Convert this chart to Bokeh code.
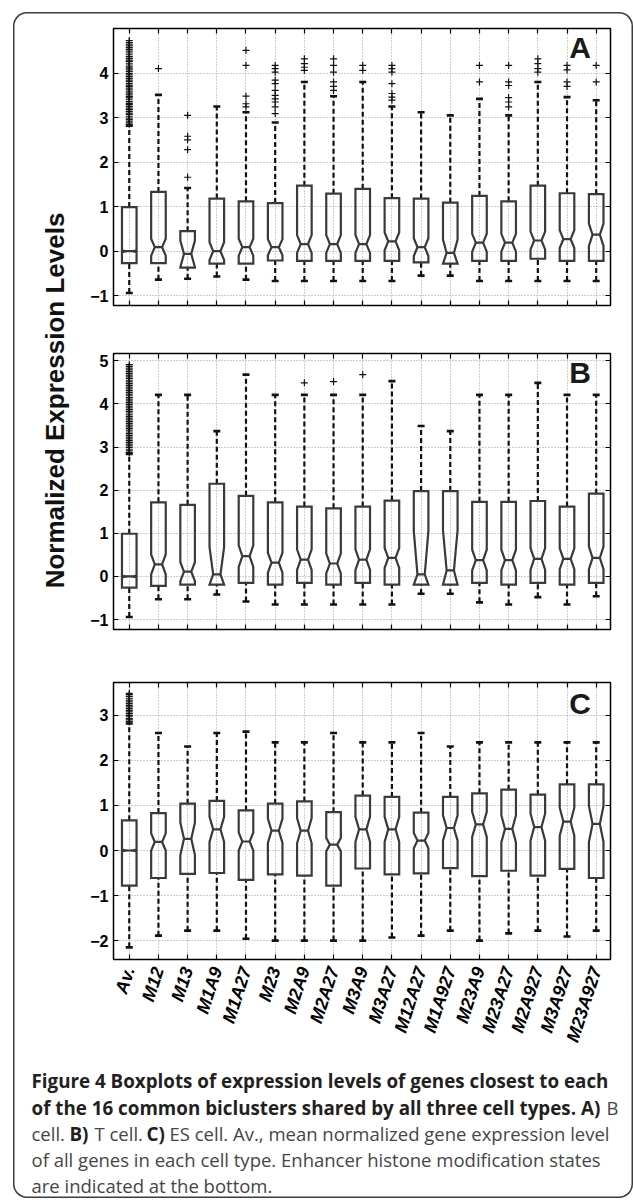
import math
from bokeh.plotting import figure
from bokeh.models import Range1d, LinearAxis, FixedTicker, Grid, Label
from bokeh.layouts import column, row
from bokeh.embed import file_html
from bokeh.resources import INLINE

categories = ["Av.", "M12", "M13", "M1A9", "M1A27", "M23", "M2A9", "M2A27", "M3A9",
              "M3A27", "M12A27", "M1A927", "M23A9", "M23A27", "M2A927", "M3A927", "M23A927"]

# ---------------- Panel A (B cell) ----------------
a_low = [-0.94, -0.64, -0.62, -0.57, -0.64, -0.67, -0.67, -0.67, -0.67, -0.67, -0.55, -0.55, -0.67, -0.67, -0.67, -0.67, -0.67]
a_q1 = [-0.27, -0.27, -0.37, -0.28, -0.28, -0.21, -0.22, -0.22, -0.22, -0.22, -0.25, -0.28, -0.22, -0.22, -0.17, -0.22, -0.22]
a_med = [0.0, 0.09, -0.06, 0.0, 0.09, 0.09, 0.16, 0.16, 0.16, 0.22, 0.09, -0.04, 0.19, 0.19, 0.24, 0.27, 0.37]
a_q3 = [0.99, 1.33, 0.45, 1.18, 1.12, 1.08, 1.47, 1.29, 1.40, 1.19, 1.18, 1.09, 1.24, 1.12, 1.47, 1.30, 1.28]
a_high = [2.82, 3.51, 1.42, 3.25, 3.12, 2.89, 3.80, 3.48, 3.80, 3.25, 3.12, 3.05, 3.42, 3.05, 3.80, 3.46, 3.39]
a_notch = [0.02, 0.19, 0.30, 0.20, 0.19, 0.18, 0.20, 0.20, 0.20, 0.20, 0.20, 0.30, 0.20, 0.20, 0.20, 0.20, 0.25]
a_out = [
    [2.85, 2.88, 2.92, 2.96, 2.99, 3.03, 3.07, 3.1, 3.14, 3.18, 3.21, 3.25, 3.29, 3.32, 3.36, 3.4,
     3.44, 3.47, 3.51, 3.55, 3.58, 3.62, 3.66, 3.7, 3.73, 3.77, 3.81, 3.84, 3.88, 3.92, 3.96, 3.99,
     4.03, 4.07, 4.11, 4.14, 4.18, 4.22, 4.26, 4.29, 4.33, 4.37, 4.41, 4.45, 4.49, 4.53, 4.57, 4.61,
     4.65, 4.69, 4.73],
    [4.10],
    [1.66, 2.28, 2.50, 2.58, 3.05],
    [],
    [3.24, 3.31, 3.48, 4.17, 4.51],
    [3.09, 3.24, 3.35, 3.42, 3.50, 3.61, 3.76, 3.84, 4.02, 4.10, 4.17],
    [4.06, 4.13, 4.21, 4.32],
    [3.61, 3.70, 3.80, 4.02, 4.17, 4.32],
    [4.06, 4.17],
    [3.39, 3.46, 3.54, 3.76, 4.02, 4.10, 4.17],
    [],
    [],
    [3.80, 4.17],
    [3.24, 3.35, 3.45, 3.72, 3.80, 4.17],
    [4.02, 4.10, 4.21, 4.32],
    [3.70, 3.80, 4.07, 4.17],
    [3.80, 4.17],
]

# ---------------- Panel B (T cell) ----------------
b_low = [-0.94, -0.53, -0.53, -0.42, -0.58, -0.65, -0.65, -0.65, -0.65, -0.65, -0.40, -0.40, -0.60, -0.65, -0.48, -0.65, -0.46]
b_q1 = [-0.26, -0.22, -0.19, -0.19, -0.15, -0.19, -0.15, -0.19, -0.15, -0.19, -0.19, -0.19, -0.15, -0.19, -0.15, -0.19, -0.15]
b_med = [0.0, 0.28, 0.11, 0.05, 0.47, 0.32, 0.39, 0.30, 0.39, 0.43, 0.05, 0.14, 0.38, 0.38, 0.41, 0.41, 0.43]
b_q3 = [0.99, 1.72, 1.66, 2.15, 1.87, 1.72, 1.62, 1.58, 1.62, 1.76, 1.98, 1.98, 1.73, 1.73, 1.75, 1.62, 1.92]
b_high = [2.84, 4.21, 4.21, 3.37, 4.68, 4.21, 4.21, 4.21, 4.21, 4.53, 3.49, 3.37, 4.21, 4.21, 4.49, 4.21, 4.21]
b_notch = [0.02, 0.23, 0.22, 0.63, 0.25, 0.23, 0.24, 0.23, 0.24, 0.23, 1.00, 0.93, 0.24, 0.24, 0.25, 0.24, 0.26]
b_out = [
    [2.87, 2.91, 2.95, 2.99, 3.03, 3.07, 3.11, 3.15, 3.19, 3.23, 3.27, 3.31, 3.35, 3.39, 3.43, 3.47,
     3.51, 3.55, 3.59, 3.63, 3.67, 3.71, 3.75, 3.79, 3.83, 3.87, 3.91, 3.95, 3.99, 4.03, 4.07, 4.11,
     4.15, 4.19, 4.23, 4.27, 4.31, 4.35, 4.39, 4.43, 4.47, 4.51, 4.55, 4.59, 4.63, 4.67, 4.71, 4.75,
     4.79, 4.83, 4.87, 4.91],
    [], [], [], [], [],
    [4.49],
    [4.52],
    [4.68],
    [], [], [], [], [], [], [], [],
]

# ---------------- Panel C (ES cell) ----------------
c_low = [-2.15, -1.89, -1.78, -1.78, -1.96, -2.0, -2.0, -2.0, -2.0, -1.93, -1.89, -1.78, -2.0, -1.84, -1.78, -1.91, -1.78]
c_q1 = [-0.78, -0.61, -0.52, -0.50, -0.65, -0.53, -0.56, -0.78, -0.40, -0.53, -0.51, -0.39, -0.57, -0.45, -0.56, -0.41, -0.61]
c_med = [0.0, 0.19, 0.26, 0.47, 0.20, 0.44, 0.44, 0.13, 0.47, 0.47, 0.22, 0.50, 0.58, 0.48, 0.52, 0.64, 0.59]
c_q3 = [0.67, 0.83, 1.04, 1.10, 0.89, 1.04, 1.09, 0.85, 1.22, 1.19, 0.84, 1.19, 1.27, 1.35, 1.24, 1.47, 1.47]
c_high = [2.82, 2.61, 2.31, 2.61, 2.64, 2.40, 2.40, 2.61, 2.40, 2.40, 2.61, 2.31, 2.40, 2.40, 2.40, 2.40, 2.40]
c_notch = [0.02, 0.19, 0.36, 0.28, 0.20, 0.27, 0.28, 0.15, 0.28, 0.28, 0.17, 0.28, 0.28, 0.30, 0.30, 0.31, 0.40]
c_out = [
    [2.86, 2.9, 2.93, 2.97, 3.0, 3.04, 3.08, 3.11, 3.15, 3.19, 3.22, 3.26, 3.3, 3.34, 3.38, 3.42,
     3.46, 3.49],
    [], [], [], [], [], [], [], [], [], [], [], [], [], [], [], [],
]

a_yticks = [-1, 0, 1, 2, 3, 4]
b_yticks = [-1, 0, 1, 2, 3, 4, 5]
c_yticks = [-2, -1, 0, 1, 2, 3]

y_title = "Normalized Expression Levels"
caption_bold_1 = "Figure 4 Boxplots of expression levels of genes closest to each"
caption_bold_2 = "of the 16 common biclusters shared by all three cell types. A)"

FONT = "Liberation Sans"
CAPFONT = "Open Sans"
BOXC = "#3a3a3a"
HW = 0.25  # half box width (x units)


def tick_text(v):
    return ("\u2212%d" % (-v)) if v < 0 else "%d" % v


def make_axis(ticks, labels, size="16px", style="bold", standoff=5, **kw):
    return LinearAxis(
        ticker=FixedTicker(ticks=ticks),
        major_label_overrides={t: l for t, l in zip(ticks, labels)},
        axis_line_color=None,
        major_tick_in=5, major_tick_out=0,
        major_tick_line_color="black", major_tick_line_width=1.2,
        minor_tick_line_color=None,
        major_label_text_font=FONT, major_label_text_font_style=style,
        major_label_text_font_size=size, major_label_text_color="black",
        major_label_standoff=standoff, **kw)


def panel(letter, letter_xy, lows, q1s, meds, q3s, highs, notch, outs, yr, yticks,
          h, top, bottom, show_xlabels):
    n = len(categories)
    xt = list(range(1, n + 1))
    p = figure(width=555, height=h, x_range=Range1d(0.46, 17.49), y_range=Range1d(*yr),
               x_axis_type=None, y_axis_type=None, output_backend="svg",
               toolbar_location=None, min_border_left=35, min_border_right=23,
               min_border_top=top, min_border_bottom=bottom,
               border_fill_color=None, background_fill_color=None,
               outline_line_color="black", outline_line_width=1.5)
    p.add_layout(Grid(dimension=0, ticker=FixedTicker(ticks=xt), grid_line_color="#9c9c9c",
                      grid_line_dash="1 2", grid_line_width=1))
    p.add_layout(Grid(dimension=1, ticker=FixedTicker(ticks=yticks), grid_line_color="#9c9c9c",
                      grid_line_dash="1 2", grid_line_width=1))

    p.add_layout(make_axis(yticks, [tick_text(t) for t in yticks]), "left")
    p.add_layout(make_axis(yticks, [""] * len(yticks), size="8px", standoff=0), "right")
    p.add_layout(make_axis(xt, [""] * n, size="8px", standoff=0), "above")
    if show_xlabels:
        p.add_layout(make_axis(xt, categories, size="18px", style="bold italic", standoff=8,
                               major_label_orientation=math.radians(72)), "below")
    else:
        p.add_layout(make_axis(xt, [""] * n, size="8px", standoff=0), "below")

    # whiskers
    p.segment(xt, q3s, xt, highs, line_color="#111111", line_width=2.2, line_dash="5 3")
    p.segment(xt, lows, xt, q1s, line_color="#111111", line_width=2.2, line_dash="5 3")
    p.segment([x - 0.12 for x in xt], highs, [x + 0.12 for x in xt], highs,
              line_color="#111111", line_width=2.6)
    p.segment([x - 0.12 for x in xt], lows, [x + 0.12 for x in xt], lows,
              line_color="#111111", line_width=2.6)

    # notched boxes
    xs_list, ys_list = [], []
    for i, x in enumerate(xt):
        lo = max(meds[i] - notch[i], q1s[i])
        hi = min(meds[i] + notch[i], q3s[i])
        xs_list.append([x - HW, x - HW, x - HW / 2, x - HW, x - HW,
                        x + HW, x + HW, x + HW / 2, x + HW, x + HW])
        ys_list.append([q1s[i], lo, meds[i], hi, q3s[i], q3s[i], hi, meds[i], lo, q1s[i]])
    p.patches(xs_list, ys_list, fill_color=None, line_color=BOXC, line_width=2.2,
              line_join="miter")
    p.segment([x - HW / 2 for x in xt], meds, [x + HW / 2 for x in xt], meds,
              line_color=BOXC, line_width=2.2)

    # outliers
    ox, oy = [], []
    for i, vals in enumerate(outs):
        for v in vals:
            ox.append(i + 1)
            oy.append(v)
    p.scatter(ox, oy, marker="cross", size=7, line_color="#111111", line_width=1.2)

    p.add_layout(Label(x=letter_xy[0], y=letter_xy[1], text=letter, text_font=FONT,
                       text_font_style="bold", text_font_size="30px", text_color="#1a1a1a",
                       text_align="center", text_baseline="alphabetic"))
    return p


pa = panel("A", (16.45, 4.58), a_low, a_q1, a_med, a_q3, a_high, a_notch, a_out,
           (-1.22, 5.0), a_yticks, 317, 16, 24, False)
pb = panel("B", (16.45, 4.73), b_low, b_q1, b_med, b_q3, b_high, b_notch, b_out,
           (-1.23, 5.17), b_yticks, 326, 24, 26, False)
pc = panel("C", (16.45, 3.26), c_low, c_q1, c_med, c_q3, c_high, c_notch, c_out,
           (-2.42, 3.73), c_yticks, 413, 27, 109, True)

# y-axis title column
ylab = figure(width=65, height=1056, x_range=Range1d(0, 65), y_range=Range1d(1056, 0),
              x_axis_type=None, y_axis_type=None, output_backend="svg", toolbar_location=None,
              min_border=0, border_fill_color=None, background_fill_color=None,
              outline_line_color=None)
ylab.add_layout(Label(x=41, y=388, text=y_title, angle=math.pi / 2, text_font=FONT,
                      text_font_style="bold", text_font_size="26px", text_color="#111111",
                      text_align="center", text_baseline="alphabetic"))

# caption
CAP_H = 130
cap = figure(width=620, height=CAP_H, x_range=Range1d(0, 620), y_range=Range1d(CAP_H, 0),
             x_axis_type=None, y_axis_type=None, output_backend="svg", toolbar_location=None,
             min_border=0, border_fill_color=None, background_fill_color=None,
             outline_line_color=None)
BOLDC = "#231f20"
REGC = "#454545"
cap_items = [
    (18, 12, caption_bold_1, "bold", BOLDC),
    (18, 39, caption_bold_2, "bold", BOLDC),
    (593, 39, "B", "normal", REGC),
    (18, 65, "cell.", "normal", REGC),
    (56, 65, "B)", "bold", BOLDC),
    (81, 65, "T cell.", "normal", REGC),
    (133, 65, "C)", "bold", BOLDC),
    (156, 65, "ES cell. Av., mean normalized gene expression level", "normal", REGC),
    (18, 91, "of all genes in each cell type. Enhancer histone modification states", "normal", REGC),
    (18, 117, "are indicated at the bottom.", "normal", REGC),
]
for x, y, t, st, col in cap_items:
    cap.add_layout(Label(x=x, y=y, text=t, text_font=CAPFONT, text_font_style=st,
                         text_font_size="18.8px" if st == "bold" else "18.5px",
                         text_color=col, text_align="left", text_baseline="middle"))

root = column(
    row(ylab, column(pa, pb, pc, spacing=0), spacing=0),
    cap,
    spacing=0,
    styles={"margin-left": "13px", "margin-top": "12px",
            "box-shadow": "inset 0 0 0 1.5px #3c3c3c", "border-radius": "14px"},
)

open("out.html", "w").write(file_html(root, INLINE, title="Figure 4"))
